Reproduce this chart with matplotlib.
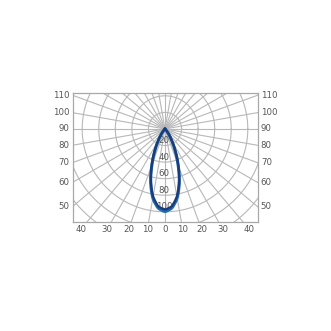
import numpy as np
import matplotlib
matplotlib.use("Agg")
import matplotlib.pyplot as plt

# Data (intensity vs angle from nadir, degrees)
angles = [0, 5, 10, 15, 20, 25, 30, 35, 40, 45, 50, 55, 60, 70, 80, 90]
c0_c180 = [97.5, 94, 83, 66, 47, 30, 17, 9, 4, 1.5, 0.5, 0, 0, 0, 0, 0]
c90_c270 = [100, 96, 85, 67, 46, 28.5, 15.5, 7.5, 3, 1, 0.3, 0, 0, 0, 0, 0]
ring_values = [20, 40, 60, 80, 100, 120, 140, 160]
ring_labels = [20, 40, 60, 80, 100]
side_labels = [110, 100, 90, 80, 70, 60, 50]
bottom_labels = [40, 30, 20, 10, 0, 10, 20, 30, 40]
bottom_angles = [-40, -30, -20, -10, 0, 10, 20, 30, 40]

W = H = 331
fig = plt.figure(figsize=(W / 100, H / 100), dpi=100)
fig.patch.set_facecolor("white")
left, right, top, bottom = 72.5, 257.5, 93.0, 221.5
ax = fig.add_axes([left / W, 1 - bottom / H, (right - left) / W, (bottom - top) / H])
XM = 111.7
YB, YT = -111.7, 43.4
ax.set_xlim(-XM, XM)
ax.set_ylim(YB, YT)
ax.set_xticks([])
ax.set_yticks([])
for s in ax.spines.values():
    s.set_color("#a8a8a8")
    s.set_linewidth(0.9)

grid_c = "#b8b8b8"
t = np.linspace(0, 2 * np.pi, 400)
for r in ring_values:
    ax.plot(r * np.cos(t), r * np.sin(t), color=grid_c, lw=0.8, zorder=1)
for a in range(0, 360, 10):
    ar = np.radians(a)
    ax.plot([0, 300 * np.sin(ar)], [0, -300 * np.cos(ar)], color=grid_c, lw=0.8, zorder=1)

txt_c = "#555555"
fs = 6.2
for r in ring_labels:
    ax.text(-1, -r + 0.5, str(r), ha="center", va="bottom", fontsize=fs, color=txt_c, zorder=3)

for a in side_labels:
    ar = np.radians(a)
    y = -np.cos(ar) * XM / np.sin(ar)
    ax.text(-XM - 4, y, str(a), ha="right", va="center", fontsize=fs, color=txt_c, clip_on=False)
    ax.text(XM + 4, y, str(a), ha="left", va="center", fontsize=fs, color=txt_c, clip_on=False)

ylab = -120.8
for lab, a in zip(bottom_labels, bottom_angles):
    x = -ylab * np.tan(np.radians(a))
    ax.text(x, ylab, str(lab), ha="center", va="center", fontsize=fs, color=txt_c, clip_on=False)

# curves
ang = np.radians(np.array(angles, dtype=float))
full_a = np.concatenate([-ang[::-1], ang[1:]])


def curve(vals):
    v = np.array(vals, dtype=float)
    fv = np.concatenate([v[::-1], v[1:]])
    aa = np.linspace(full_a.min(), full_a.max(), 721)
    vv = np.interp(aa, full_a, fv)
    k = np.ones(9) / 9
    vv = np.convolve(np.pad(vv, 4, mode="edge"), k, mode="valid")
    return vv * np.sin(aa), -vv * np.cos(aa)


x0, y0 = curve(c0_c180)
x1, y1 = curve(c90_c270)
ax.plot(x1, y1, color="#1f6bad", lw=2.2, zorder=4)
ax.plot(x0, y0, color="#1b3c7a", lw=1.7, zorder=5)

fig.savefig("out.png", dpi=100, facecolor="white")
